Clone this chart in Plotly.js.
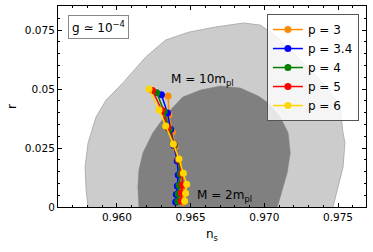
<!DOCTYPE html>
<html><head><meta charset="utf-8">
<script src="https://cdn.plot.ly/plotly-3.0.1.min.js"></script>
<style>html,body{margin:0;padding:0;background:#fff;}#chart{width:373px;height:252px;}</style>
</head><body><div id="chart"></div>
<script>
// 95% CL contour (outer, light)
const outerNs = [0.95804,0.95791,0.95784,0.95804,0.95858,0.95926,0.96039,0.96196,0.96331,0.96487,0.96669,0.96858,0.96973,0.97088,0.97223,0.97426,0.97514,0.97534,0.97547,0.97534,0.97500,0.97466,0.97460,0.95810,0.95804];
const outerR  = [0,0.0072,0.0169,0.0271,0.0381,0.0453,0.0525,0.0636,0.0708,0.0741,0.0763,0.0780,0.0771,0.0720,0.0636,0.0508,0.0424,0.0314,0.0271,0.0169,0.0085,0,-0.01,-0.01,0];
// 68% CL contour (inner, dark)
const innerNs = [0.96149,0.96142,0.96149,0.96176,0.96243,0.96331,0.96446,0.96568,0.96703,0.96838,0.96960,0.97027,0.97108,0.97162,0.97176,0.97155,0.97108,0.97088,0.97080,0.96150,0.96149];
const innerR  = [0,0.0085,0.0157,0.0229,0.0314,0.0390,0.0466,0.0496,0.0513,0.0504,0.0470,0.0441,0.0381,0.0314,0.0229,0.0144,0.0042,0,-0.01,-0.01,0];

const seriesNames = ["p = 3","p = 3.4","p = 4","p = 5","p = 6"];
const seriesColors = ["#ff8c00","#0000ff","#008000","#ff0000","#ffd700"];
const ns_p3  = [0.96347,0.96353,0.96376,0.96395,0.96419,0.96436,0.96446,0.96449,0.96446];
const r_p3   = [0.0470,0.0391,0.0318,0.0254,0.0191,0.0131,0.0085,0.0051,0.0019];
const ns_p34 = [0.96302,0.96343,0.96365,0.96387,0.96409,0.96416,0.96410,0.96403,0.96399];
const r_p34  = [0.0476,0.0398,0.0328,0.0261,0.0195,0.0136,0.0089,0.0053,0.0021];
const ns_p4  = [0.96270,0.96320,0.96355,0.96389,0.96416,0.96429,0.96422,0.96416,0.96414];
const r_p4   = [0.0484,0.0405,0.0330,0.0263,0.0199,0.0140,0.0091,0.0055,0.0023];
const ns_p5  = [0.96241,0.96304,0.96345,0.96385,0.96419,0.96443,0.96444,0.96437,0.96437];
const r_p5   = [0.0494,0.0410,0.0337,0.0267,0.0201,0.0142,0.0093,0.0059,0.0025];
const ns_p6  = [0.96218,0.96286,0.96331,0.96383,0.96421,0.96451,0.96473,0.96466,0.96459];
const r_p6   = [0.0500,0.0411,0.0343,0.0267,0.0203,0.0143,0.0096,0.0058,0.0025];
const seriesNs = [ns_p3, ns_p34, ns_p4, ns_p5, ns_p6];
const seriesR  = [r_p3, r_p34, r_p4, r_p5, r_p6];

const FONT = "DejaVu Sans";
const traces = [
  {x: outerNs, y: outerR, type:"scatter", mode:"lines", fill:"toself", fillcolor:"#cccccc",
   line:{color:"#b0b0b0", width:1}, showlegend:false, hoverinfo:"skip"},
  {x: innerNs, y: innerR, type:"scatter", mode:"lines", fill:"toself", fillcolor:"#808080",
   line:{color:"#808080", width:0.5}, showlegend:false, hoverinfo:"skip"}
];
for (let i = 0; i < seriesNames.length; i++) {
  traces.push({x: seriesNs[i], y: seriesR[i], type:"scatter", mode:"lines+markers", name: seriesNames[i],
    line:{color: seriesColors[i], width:1.5}, marker:{color: seriesColors[i], size:7}});
}

const axisCommon = {showgrid:false, zeroline:false, showline:true, linecolor:"#000", linewidth:1,
  mirror:"ticks", ticks:"inside", ticklen:4, tickwidth:1, tickcolor:"#000",
  tickfont:{family:FONT, size:10.5, color:"#000"}};

const layout = {
  width:373, height:252,
  margin:{l:58, r:7, t:6, b:45},
  paper_bgcolor:"#fff", plot_bgcolor:"#fff",
  font:{family:FONT, color:"#000"},
  xaxis: Object.assign({}, axisCommon, {range:[0.956,0.9769], tickmode:"linear", tick0:0.960, dtick:0.005,
    tickformat:".3f", minor:{dtick:0.001, tick0:0.960, ticks:"inside", ticklen:2, tickcolor:"#000"},
    title:{text:"n<sub>s</sub>", font:{family:FONT, size:12}, standoff:8}}),
  yaxis: Object.assign({}, axisCommon, {range:[0,0.0852], tickmode:"linear", tick0:0, dtick:0.025,
    minor:{dtick:0.005, tick0:0, ticks:"inside", ticklen:2, tickcolor:"#000"},
    title:{text:"r", font:{family:FONT, size:12}, standoff:5}}),
  legend:{x:0.977, xanchor:"right", y:0.96, yanchor:"top", bgcolor:"rgba(255,255,255,0.8)",
    bordercolor:"#555", borderwidth:1, font:{family:FONT, size:12, color:"#000"}, tracegroupgap:0},
  annotations:[
    {x:0.9635, y:0.0538, xref:"x", yref:"y", xanchor:"left", yanchor:"middle", showarrow:false,
     text:"M = 10m<sub>pl</sub>", font:{family:FONT, size:12, color:"#000"}},
    {x:0.9653, y:0.0045, xref:"x", yref:"y", xanchor:"left", yanchor:"middle", showarrow:false,
     text:"M = 2m<sub>pl</sub>", font:{family:FONT, size:12, color:"#000"}},
    {x:0.032, y:0.955, xref:"paper", yref:"paper", xanchor:"left", yanchor:"top", showarrow:false,
     text:"g ≃ 10<sup>−4</sup>", font:{family:FONT, size:12, color:"#000"},
     bgcolor:"#fff", bordercolor:"#888", borderwidth:1, borderpad:3}
  ]
};
Plotly.newPlot("chart", traces, layout, {staticPlot:true, displayModeBar:false});
</script></body></html>
